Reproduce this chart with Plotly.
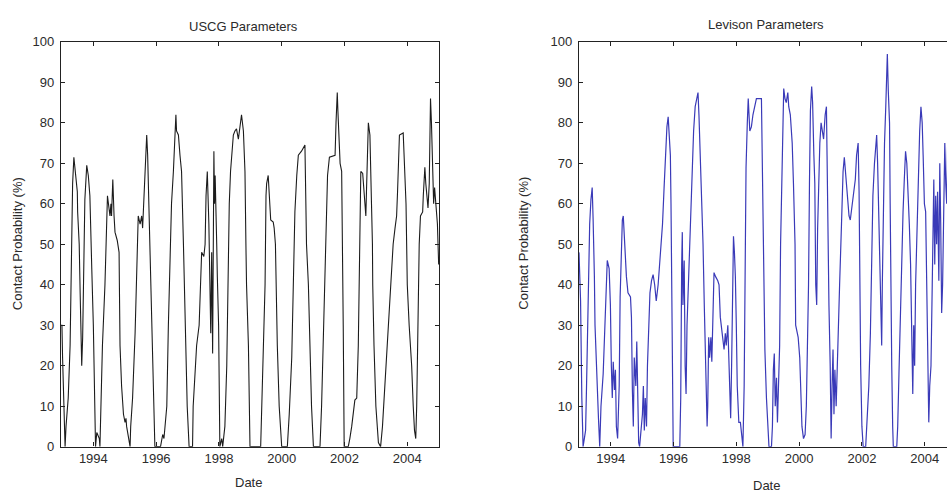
import plotly.graph_objects as go

# ---------------- data (decimal year, contact probability %) ----------------
uscg_year = [1992.97, 1993.00, 1993.02, 1993.06, 1993.10, 1993.13, 1993.20, 1993.26, 1993.29, 1993.31,
             1993.34, 1993.38, 1993.44, 1993.49, 1993.50, 1993.55, 1993.58, 1993.60, 1993.63, 1993.66,
             1993.70, 1993.73, 1993.79, 1993.84, 1993.89, 1993.92, 1993.95, 1994.00, 1994.05, 1994.07,
             1994.11, 1994.16, 1994.19, 1994.21, 1994.24, 1994.29, 1994.37, 1994.40, 1994.42, 1994.45,
             1994.53, 1994.56, 1994.58, 1994.61, 1994.62, 1994.66, 1994.69, 1994.76, 1994.82, 1994.83,
             1994.85, 1994.90, 1994.96, 1995.01, 1995.04, 1995.06, 1995.14, 1995.17, 1995.19, 1995.25,
             1995.33, 1995.38, 1995.41, 1995.43, 1995.49, 1995.54, 1995.57, 1995.59, 1995.62, 1995.65,
             1995.68, 1995.70, 1995.73, 1995.75, 1995.78, 1995.80, 1995.83, 1995.87, 1995.91, 1995.96,
             1996.14, 1996.21, 1996.25, 1996.28, 1996.34, 1996.39, 1996.46, 1996.49, 1996.55, 1996.58,
             1996.60, 1996.63, 1996.65, 1996.71, 1996.76, 1996.81, 1996.87, 1996.90, 1996.94, 1996.99,
             1997.05, 1997.16, 1997.18, 1997.29, 1997.37, 1997.45, 1997.52, 1997.56, 1997.59, 1997.63,
             1997.68, 1997.74, 1997.77, 1997.80, 1997.84, 1997.86, 1997.88, 1997.90, 1997.93, 1997.95,
             1997.99, 1998.03, 1998.09, 1998.12, 1998.19, 1998.25, 1998.28, 1998.33, 1998.37, 1998.41,
             1998.46, 1998.51, 1998.56, 1998.62, 1998.67, 1998.72, 1998.78, 1998.83, 1998.86, 1998.88,
             1998.94, 1998.97, 1998.99, 1999.33, 1999.36, 1999.41, 1999.47, 1999.50, 1999.52, 1999.57,
             1999.63, 1999.65, 1999.73, 1999.76, 1999.80, 1999.82, 1999.86, 1999.92, 2000.00, 2000.18,
             2000.24, 2000.32, 2000.37, 2000.42, 2000.48, 2000.53, 2000.63, 2000.74, 2000.77, 2000.79,
             2000.85, 2000.90, 2000.95, 2001.01, 2001.22, 2001.27, 2001.32, 2001.38, 2001.43, 2001.46,
             2001.52, 2001.70, 2001.73, 2001.75, 2001.77, 2001.79, 2001.83, 2001.86, 2001.91, 2001.94,
             2001.96, 2001.99, 2002.12, 2002.17, 2002.23, 2002.33, 2002.39, 2002.44, 2002.47, 2002.49,
             2002.52, 2002.58, 2002.60, 2002.65, 2002.68, 2002.70, 2002.74, 2002.76, 2002.81, 2002.83,
             2002.86, 2002.89, 2002.90, 2002.94, 2003.00, 2003.08, 2003.15, 2003.21, 2003.29, 2003.39,
             2003.47, 2003.55, 2003.61, 2003.66, 2003.69, 2003.71, 2003.75, 2003.87, 2003.89, 2003.93,
             2003.96, 2003.98, 2004.00, 2004.06, 2004.14, 2004.19, 2004.23, 2004.27, 2004.30, 2004.33,
             2004.35, 2004.38, 2004.42, 2004.49, 2004.51, 2004.56, 2004.59, 2004.63, 2004.66, 2004.70,
             2004.72, 2004.74, 2004.77, 2004.80, 2004.82, 2004.84, 2004.87, 2004.92, 2004.96, 2004.98,
             2005.00]
uscg_prob = [30, 30, 22, 8, 0, 5, 12, 25, 39, 52,
             65, 71.5, 67, 63, 58, 50, 38, 26, 20, 27,
             50, 61, 69.5, 67, 62, 50, 44, 30, 10, 0,
             3.5, 2.5, 2, 0, 10, 25, 40, 50, 57, 62,
             57, 60, 57, 64, 66, 57, 53, 51, 48, 40,
             25, 15, 8, 6, 7, 5, 1, 0, 5, 12,
             28, 40, 50, 57, 55, 57, 54, 58, 64, 70,
             75, 77, 72, 65, 58, 50, 40, 25, 10, 0,
             0, 3, 2, 5, 10, 30, 50, 60, 68, 75,
             78, 82, 78, 77, 72, 68, 50, 40, 25, 10,
             0, 0, 10, 25, 30, 48, 47, 50, 62, 68,
             55, 28, 48, 23, 73, 60, 67, 55, 50, 42,
             30, 0, 2, 0, 5, 20, 40, 60, 68, 73,
             77, 78, 78.5, 76, 79, 82, 78, 68, 50, 40,
             25, 10, 0, 0, 10, 25, 40, 62, 65, 67,
             60, 56, 55.5, 54, 50, 40, 25, 10, 0, 0,
             8, 22, 40, 58, 67, 72, 73, 74.5, 60, 50,
             40, 25, 10, 0, 0, 10, 25, 40, 60, 67,
             71.5, 72, 80, 84, 87.5, 83, 77, 70, 68, 50,
             30, 0, 0, 2, 5, 11.5, 12, 25, 40, 58,
             68, 67.5, 65, 60, 57, 63, 75, 80, 77, 72,
             60, 50, 40, 25, 10, 1, 0, 5, 15, 30,
             40, 50, 54, 57, 63, 70, 77, 77.5, 74, 68,
             60, 50, 40, 30, 20, 10, 4, 2, 10, 25,
             40, 50, 57, 58, 62, 69, 65, 62, 59, 65,
             79, 86, 80, 72, 63, 60, 64, 60, 55, 50,
             45]

levison_year = [1992.99, 1993.04, 1993.08, 1993.12, 1993.16, 1993.20, 1993.23, 1993.27, 1993.30, 1993.33,
                1993.37, 1993.41, 1993.44, 1993.46, 1993.48, 1993.50, 1993.54, 1993.58, 1993.61, 1993.65,
                1993.69, 1993.76, 1993.82, 1993.86, 1993.89, 1993.95, 1993.99, 1994.02, 1994.05, 1994.08,
                1994.12, 1994.15, 1994.18, 1994.22, 1994.27, 1994.30, 1994.34, 1994.37, 1994.40, 1994.42,
                1994.46, 1994.50, 1994.55, 1994.63, 1994.66, 1994.69, 1994.72, 1994.75, 1994.80, 1994.83,
                1994.86, 1994.89, 1994.92, 1994.97, 1995.01, 1995.04, 1995.07, 1995.10, 1995.14, 1995.17,
                1995.21, 1995.25, 1995.30, 1995.35, 1995.40, 1995.45, 1995.51, 1995.56, 1995.65, 1995.70,
                1995.75, 1995.79, 1995.83, 1995.86, 1995.90, 1995.92, 1995.94, 1995.96, 1995.99, 1996.20,
                1996.23, 1996.26, 1996.28, 1996.30, 1996.34, 1996.37, 1996.40, 1996.43, 1996.47, 1996.52,
                1996.56, 1996.60, 1996.64, 1996.69, 1996.73, 1996.78, 1996.81, 1996.86, 1996.90, 1996.94,
                1996.98, 1997.03, 1997.07, 1997.09, 1997.12, 1997.15, 1997.19, 1997.22, 1997.26, 1997.29,
                1997.34, 1997.41, 1997.45, 1997.49, 1997.55, 1997.61, 1997.65, 1997.68, 1997.73, 1997.76,
                1997.79, 1997.82, 1997.85, 1997.89, 1997.91, 1997.94, 1997.97, 1998.00, 1998.03, 1998.08,
                1998.13, 1998.17, 1998.21, 1998.25, 1998.28, 1998.31, 1998.35, 1998.38, 1998.43, 1998.48,
                1998.53, 1998.59, 1998.64, 1998.80, 1998.83, 1998.85, 1998.87, 1998.91, 1998.96, 1999.01,
                1999.04, 1999.12, 1999.15, 1999.18, 1999.21, 1999.24, 1999.28, 1999.31, 1999.35, 1999.38,
                1999.41, 1999.45, 1999.48, 1999.51, 1999.55, 1999.59, 1999.64, 1999.67, 1999.72, 1999.78,
                1999.82, 1999.85, 1999.87, 1999.89, 1999.97, 2000.02, 2000.05, 2000.09, 2000.14, 2000.19,
                2000.23, 2000.26, 2000.30, 2000.33, 2000.36, 2000.40, 2000.43, 2000.47, 2000.50, 2000.53,
                2000.56, 2000.59, 2000.62, 2000.66, 2000.70, 2000.74, 2000.78, 2000.83, 2000.87, 2000.89,
                2000.92, 2000.95, 2000.99, 2001.02, 2001.05, 2001.08, 2001.11, 2001.14, 2001.18, 2001.21,
                2001.25, 2001.29, 2001.35, 2001.40, 2001.44, 2001.48, 2001.54, 2001.59, 2001.63, 2001.69,
                2001.74, 2001.79, 2001.83, 2001.88, 2001.91, 2001.93, 2001.96, 2002.00, 2002.04, 2002.12,
                2002.16, 2002.22, 2002.27, 2002.31, 2002.35, 2002.40, 2002.44, 2002.47, 2002.50, 2002.54,
                2002.57, 2002.60, 2002.63, 2002.65, 2002.68, 2002.72, 2002.76, 2002.78, 2002.81, 2002.84,
                2002.88, 2002.90, 2002.92, 2002.95, 2002.98, 2003.00, 2003.11, 2003.14, 2003.18, 2003.23,
                2003.27, 2003.31, 2003.35, 2003.39, 2003.43, 2003.47, 2003.51, 2003.55, 2003.59, 2003.62,
                2003.65, 2003.68, 2003.71, 2003.76, 2003.80, 2003.84, 2003.88, 2003.92, 2003.95, 2003.99,
                2004.03, 2004.06, 2004.10, 2004.13, 2004.16, 2004.20, 2004.24, 2004.29, 2004.32, 2004.35,
                2004.38, 2004.41, 2004.45, 2004.48, 2004.51, 2004.54, 2004.57, 2004.61, 2004.64, 2004.67,
                2004.70, 2004.73]
levison_prob = [48, 36, 12, 0, 2, 4, 15, 35, 50, 55,
                61, 64, 56, 50, 42, 30, 20, 12, 7, 0,
                10, 18, 30, 40, 46, 44, 35, 20, 12, 21,
                14, 19, 5, 2, 15, 37, 50, 56, 57, 53,
                48, 42, 38, 37, 32, 14, 5, 22, 15, 26,
                12, 1, 0, 5, 8, 15, 4, 12, 5, 20,
                30, 38, 41, 42.5, 40, 36, 40, 45, 55, 64,
                75, 79, 81.5, 78, 72, 60, 35, 10, 0, 0,
                12, 45, 53, 35, 46, 20, 13, 30, 40, 50,
                58, 67, 78, 84, 86, 87.5, 82, 70, 57, 50,
                35, 20, 5, 10, 27, 22, 27, 21, 35, 43,
                42, 41, 40, 32, 28, 24, 28, 25, 30, 20,
                12, 7, 20, 40, 52, 48, 42, 30, 15, 6,
                6, 3, 0, 15, 45, 69, 80, 86, 78, 79,
                82, 84, 86, 86, 70, 50, 40, 24, 12, 3,
                0, 0, 5, 19, 23, 10, 17, 6, 18, 25,
                50, 70, 80, 88.5, 86, 85, 87.5, 84, 82, 75,
                65, 52, 50, 30, 27, 22, 12, 5, 2, 3,
                10, 20, 40, 65, 83, 89, 85, 72, 65, 40,
                35, 54, 67, 75, 80, 78, 76, 82, 84, 72,
                50, 35, 20, 2, 15, 24, 8, 19, 10, 20,
                28, 40, 55, 68, 71.5, 68, 63, 57, 56, 60,
                63, 66, 72, 75, 63, 40, 20, 5, 0, 0,
                5, 15, 28, 45, 62, 70, 75, 77, 70, 55,
                45, 36, 25, 40, 58, 75, 84, 92, 97, 88,
                80, 60, 40, 20, 5, 0, 0, 5, 18, 35,
                50, 58, 66, 73, 70, 64, 55, 45, 30, 13,
                30, 20, 40, 55, 70, 78, 84, 80, 72, 60,
                58, 45, 20, 6, 15, 20, 40, 66, 45, 62,
                50, 63, 41, 70, 55, 33, 40, 68, 75, 65,
                60, 75]

year_ticks = [1994, 1996, 1998, 2000, 2002, 2004]
year_labels = [str(y) for y in year_ticks]
prob_ticks = [0, 10, 20, 30, 40, 50, 60, 70, 80, 90, 100]

panel_titles = ["USCG Parameters", "Levison Parameters"]
x_title = "Date"
y_title = "Contact Probability (%)"

# ---------------- figure ----------------
W, H = 947, 498
FONT = "Liberation Sans, Arial, Helvetica, sans-serif"
TXT = "#2b2b2b"

fig = go.Figure()
fig.add_trace(go.Scatter(x=uscg_year, y=uscg_prob, mode="lines",
                         line=dict(color="#1c1c1c", width=1.1), xaxis="x", yaxis="y",
                         showlegend=False, hoverinfo="x+y"))
fig.add_trace(go.Scatter(x=levison_year, y=levison_prob, mode="lines",
                         line=dict(color="#3a3ab8", width=1.2), xaxis="x2", yaxis="y2",
                         showlegend=False, hoverinfo="x+y"))

top = 1 - 36 / H
bot = 1 - 453.3 / H

common_x = dict(tickmode="array", tickvals=year_ticks, ticktext=year_labels,
                ticks="inside", ticklen=4, tickwidth=1, tickcolor="#222",
                showline=True, linecolor="#222", linewidth=1.3, mirror="ticks",
                showgrid=False, zeroline=False,
                tickfont=dict(family=FONT, size=13, color=TXT))
common_y = dict(tickmode="array", tickvals=prob_ticks, range=[0, 100],
                ticks="inside", ticklen=4, tickwidth=1, tickcolor="#222",
                showline=True, linecolor="#222", linewidth=1.3,
                showgrid=False, zeroline=False, ticklabelstandoff=3,
                tickfont=dict(family=FONT, size=13, color=TXT))

fig.update_layout(
    width=W, height=H,
    margin=dict(l=0, r=0, t=0, b=0),
    paper_bgcolor="white", plot_bgcolor="white",
    xaxis=dict(domain=[61 / W, 439.3 / W], range=[1992.97, 2005.02], anchor="y", **common_x),
    yaxis=dict(domain=[bot, top], anchor="x", mirror="ticks", **common_y),
    xaxis2=dict(domain=[579 / W, 1.0], range=[1992.99, 2004.71], anchor="y2", **common_x),
    yaxis2=dict(domain=[bot, top], anchor="x2", mirror=False, **common_y),
)

def ann(text, x, y, size=13, angle=0):
    fig.add_annotation(text=text, x=x / W, y=1 - y / H, xref="paper", yref="paper",
                       showarrow=False, textangle=angle, xanchor="center", yanchor="middle",
                       font=dict(family=FONT, size=size, color=TXT))

ann(panel_titles[0], 243, 20)
ann(panel_titles[1], 766, 18)
ann(x_title, 248, 490)
ann(x_title, 766, 493)
ann(y_title, 17.5, 244, angle=-90)
ann(y_title, 524, 244, angle=-90)

fig.write_html("out.html")
